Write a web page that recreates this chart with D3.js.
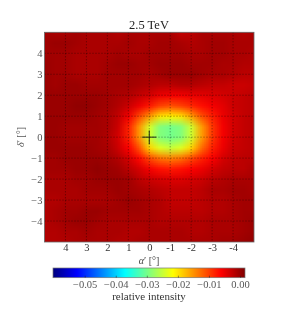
<!DOCTYPE html>
<html><head><meta charset="utf-8">
<script src="https://cdnjs.cloudflare.com/ajax/libs/d3/7.8.5/d3.min.js"></script>
<style>html,body{margin:0;padding:0;background:#fff}svg{display:block;filter:blur(0.35px)}text{font-family:"Liberation Serif","DejaVu Serif",serif;fill:#222}</style>
</head><body><svg id="c" width="291" height="327"></svg>
<script>
const title = "2.5 TeV";
const xLabel = "′ [°]", yLabel = "′ [°]", barLabel = "relative intensity";
const xTicks = [4,3,2,1,0,-1,-2,-3,-4];
const yTicks = [4,3,2,1,0,-1,-2,-3,-4];
const barTicks = [-0.05,-0.04,-0.03,-0.02,-0.01,0];
const alphaGrid = [5,4.5,4,3.5,3,2.5,2,1.5,1,0.5,0,-0.5,-1,-1.5,-2,-2.5,-3,-3.5,-4,-4.5,-5];
const deltaGrid = [5,4.5,4,3.5,3,2.5,2,1.5,1,0.5,0,-0.5,-1,-1.5,-2,-2.5,-3,-3.5,-4,-4.5,-5];
// relative intensity in units of 1e-3, one row per delta
const intensity = [
[-0.5,-1,-1,-0.5,-1,-1,-1,-1.5,-1,-1,-1,-1,-1,-2.5,-2,-1,-1,-1,-1,-1.5,-1],
[-0.5,0,0,-0.5,-1,-1,-1,-1,-0.5,-1,-1,-0.5,-0.5,-1,-1.5,-1,-0.5,-0.5,-1,-1,-1],
[-0.5,-0.5,-0.5,-1,-1,-1,-1,-0.5,-1,-1,-0.5,-0.5,-0.5,-0.5,-1,-1,-0.5,-0.5,-1,-1,-1.5],
[0,-0.5,-0.5,-1,-1,-1,-0.5,0,0,-0.5,-0.5,0,0,0,-0.5,-0.5,-0.5,-1,-1,-1.5,-1.5],
[0,-0.5,-0.5,-1,-1,-1,-0.5,-0.5,-0.5,-0.5,-1,-0.5,0,0,0,-0.5,-1,-1,-1.5,-2,-2],
[0,-0.5,0,0,-0.5,-0.5,-0.5,-0.5,-0.5,-1,-1.5,-2,-2,-1.5,-1.5,-2,-2.5,-2.5,-3,-3,-2.5],
[0,0,0,0,0,0,-0.5,-1,-1.5,-2.5,-3.5,-5,-5.5,-5.5,-5,-4.5,-4,-3.5,-3,-2.5,-2],
[0,0,0,0.5,0.5,0,-0.5,-1.5,-3,-5,-7.5,-10,-11,-10,-8.5,-7,-5.5,-4.5,-3,-2.5,-2],
[0,0,0,0,0,-0.5,-1,-2.5,-5.5,-10.5,-15.5,-20,-21,-20,-16,-11,-8,-5,-3.5,-2.5,-2],
[0,0,-0.5,-0.5,-0.5,-0.5,-1,-3,-8,-15,-24,-29,-30,-29,-24.5,-15.5,-9.5,-5.5,-3.5,-2.5,-2],
[0,0,-0.5,-0.5,-0.5,-0.5,-1.5,-3.5,-8,-15,-24.5,-29,-30,-29,-24.5,-15.5,-9.5,-5.5,-3.5,-2.5,-2],
[0,0,0,0,0,-0.5,-1,-3,-6,-11,-19,-23.5,-25,-23.5,-19,-12.5,-8,-5,-3,-2.5,-2],
[-0.5,-0.5,0,0,0,0,-0.5,-1.5,-3.5,-6.5,-10.5,-13,-14,-13,-10.5,-8,-6,-3.5,-2.5,-2,-2],
[-0.5,-0.5,-0.5,0,0,0.5,0,-0.5,-2,-3.5,-5.5,-7,-7.5,-7,-6,-5,-3.5,-2.5,-2,-2,-1],
[-1,-1,-1,-0.5,-0.5,0,0,0,-0.5,-2,-3,-3.5,-4,-4,-3.5,-3,-2,-1.5,-1,-1,-1],
[-1,-1,-1,-1,-0.5,-0.5,-0.5,0,-0.5,-1,-1.5,-2,-2.5,-2.5,-2.5,-2,-1,-1,-0.5,-0.5,-1],
[-1.5,-1.5,-1,-1,-1,-1,-1,-0.5,0,-0.5,-1,-1.5,-2.5,-2.5,-2.5,-2,-1.5,-1.5,-1,-0.5,-0.5],
[-1.5,-1,-0.5,-0.5,0,0,-0.5,-0.5,-0.5,-0.5,-1,-1.5,-2,-2,-2,-2,-1.5,-1.5,-1,-0.5,-0.5],
[-1.5,-1,-0.5,0,0,-0.5,-1,-1,-1,-1,-1,-1.5,-1.5,-1.5,-1.5,-1.5,-1,-1,-1,-0.5,0],
[-1.5,-1.5,-1,-1,-0.5,-1,-1,-1,-1.5,-1.5,-1,-1,-1,-1,-1.5,-1.5,-1,-1,-1,-0.5,0],
[-1.5,-1.5,-1.5,-1,-1,-1,-1,-1.5,-1.5,-1,-1,-1,-1,-1,-1,-1,-1,-0.5,-0.5,0,0.5]
];
const jetStops = ["#00007f","#0000ff","#007fff","#00ffff","#7fff7f","#ffff00","#ff7f00","#ff0000","#7f0000"];

const svg = d3.select("#c");
const x = d3.scaleLinear().domain([5,-5]).range([44.5,254]);
const y = d3.scaleLinear().domain([5,-5]).range([32.3,242]);
const cb = d3.scaleLinear().domain([-0.0602,0.0016]).range([53,245]);
const jet = d3.scaleLinear().domain(jetStops.map((_,i)=>i/8)).range(jetStops).interpolate(d3.interpolateRgb);
const colorOf = v => jet((v-cb.domain()[0])/(cb.domain()[1]-cb.domain()[0]));

const cv = document.createElement("canvas");
cv.width = alphaGrid.length; cv.height = deltaGrid.length;
const ctx = cv.getContext("2d");
intensity.forEach((row,j)=>row.forEach((v,i)=>{ctx.fillStyle=colorOf(v/1000);ctx.fillRect(i,j,1,1);}));
svg.append("clipPath").attr("id","plot").append("rect")
  .attr("x",x(5)).attr("y",y(5)).attr("width",x(-5)-x(5)).attr("height",y(-5)-y(5));
const gp = svg.append("g").attr("clip-path","url(#plot)");
gp.append("image").attr("href",cv.toDataURL()).attr("preserveAspectRatio","none")
  .attr("x",x(5.25)).attr("y",y(5.25)).attr("width",x(-5.25)-x(5.25)).attr("height",y(-5.25)-y(5.25));

xTicks.forEach(t=>gp.append("line").attr("x1",x(t)).attr("x2",x(t)).attr("y1",y(5)).attr("y2",y(-5))
  .attr("stroke","#000").attr("stroke-opacity",.7).attr("stroke-width",.7).attr("stroke-dasharray","1,2"));
yTicks.forEach(t=>gp.append("line").attr("y1",y(t)).attr("y2",y(t)).attr("x1",x(5)).attr("x2",x(-5))
  .attr("stroke","#000").attr("stroke-opacity",.7).attr("stroke-width",.7).attr("stroke-dasharray","1,2"));
gp.append("line").attr("x1",x(0.34)).attr("x2",x(-0.34)).attr("y1",y(0)).attr("y2",y(0)).attr("stroke","#111").attr("stroke-width",.9);
gp.append("line").attr("x1",x(0)).attr("x2",x(0)).attr("y1",y(0.32)).attr("y2",y(-0.34)).attr("stroke","#111").attr("stroke-width",.9);

svg.append("rect").attr("x",x(5)).attr("y",y(5)).attr("width",x(-5)-x(5)).attr("height",y(-5)-y(5))
  .attr("fill","none").attr("stroke","#666").attr("stroke-width",.8);

const ax = svg.append("g").attr("transform",`translate(0,${y(-5)})`)
  .call(d3.axisBottom(x).tickValues(xTicks).tickFormat(d=>String(d)).tickSize(0).tickPadding(2));
ax.select(".domain").remove();
ax.selectAll("text").style("font-size","10.5px").style("fill","#333");
const ay = svg.append("g").attr("transform",`translate(${x(5)},0)`)
  .call(d3.axisLeft(y).tickValues(yTicks).tickFormat(d=>d<0?"\u2212"+(-d):String(d)).tickSize(0).tickPadding(2));
ay.select(".domain").remove();
ay.selectAll("text").style("font-size","10.5px").style("fill","#555");

svg.append("text").attr("x",149).attr("y",29).attr("text-anchor","middle").style("font-size","12.5px").text(title);
const xl = svg.append("text").attr("x",149).attr("y",264).attr("text-anchor","middle").style("font-size","10px").style("fill","#444");
xl.append("tspan").style("font-style","italic").text("α"); xl.append("tspan").text(xLabel);
const yl = svg.append("text").attr("transform","translate(24,137) rotate(-90)").attr("text-anchor","middle").style("font-size","10px").style("fill","#555");
yl.append("tspan").style("font-style","italic").text("δ"); yl.append("tspan").text(yLabel);

const grad = svg.append("defs").append("linearGradient").attr("id","jet");
jetStops.forEach((c,i)=>grad.append("stop").attr("offset",i/8).attr("stop-color",c));
svg.append("rect").attr("x",53).attr("y",268).attr("width",192).attr("height",9.7)
  .attr("fill","url(#jet)").attr("stroke","#777").attr("stroke-width",.7);
const bar = svg.append("g").attr("transform","translate(0,277.7)")
  .call(d3.axisBottom(cb).tickValues(barTicks).tickFormat(d=>(d<0?"\u2212":"")+Math.abs(d).toFixed(2)).tickSize(-2).tickPadding(3));
bar.select(".domain").remove();
bar.selectAll("line").attr("stroke","#222").attr("stroke-width",.5);
bar.selectAll("text").style("font-size","10.5px").style("fill","#555");
svg.append("text").attr("x",149).attr("y",300).attr("text-anchor","middle").style("font-size","11px").style("fill","#333").text(barLabel);
</script></body></html>
